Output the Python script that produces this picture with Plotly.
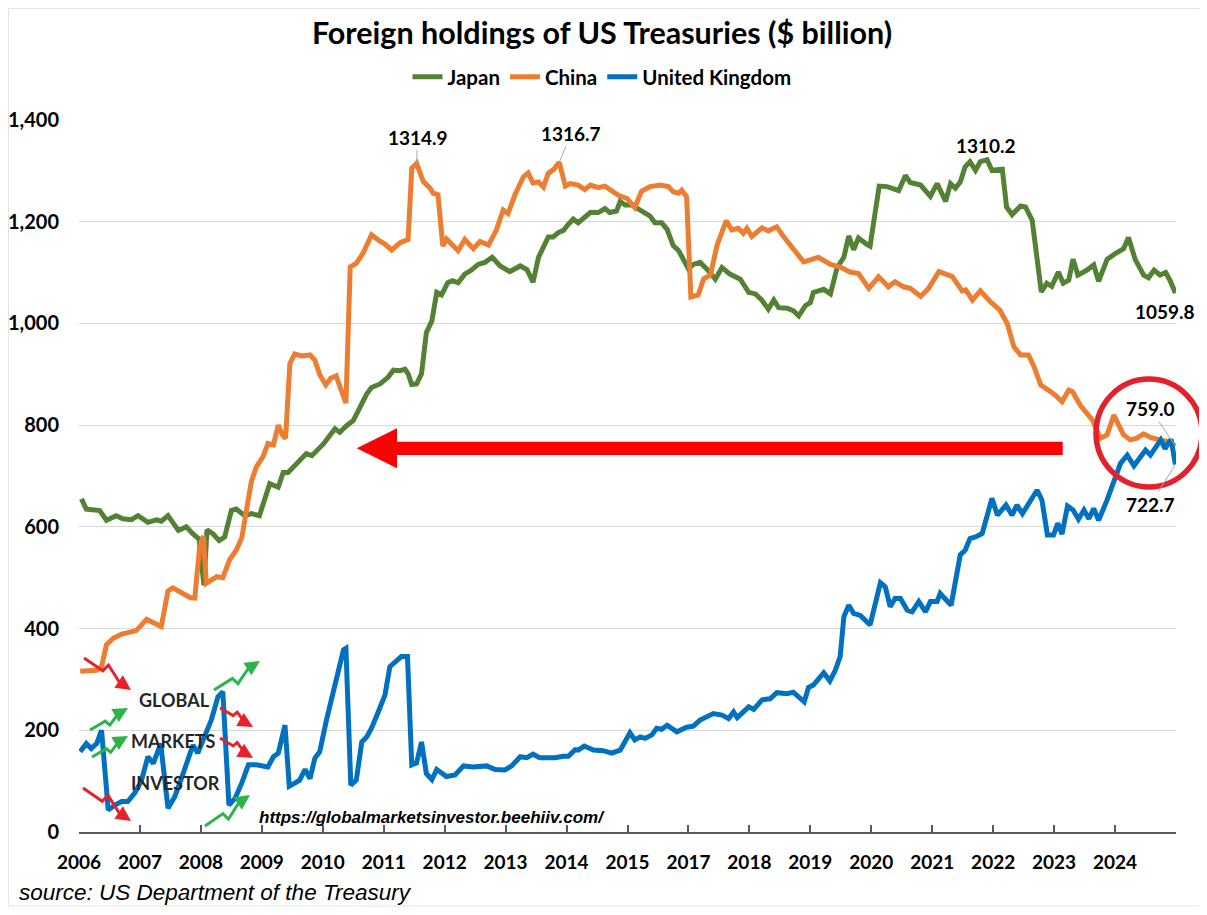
import plotly.graph_objects as go

# ---------------- DATA ----------------
# x positions are in "years from the first tick" along the chart's category axis
tick_labels = ["2006", "2007", "2008", "2009", "2010", "2011", "2012", "2013", "2014",
               "2015", "2017", "2018", "2019", "2020", "2021", "2022", "2023", "2024", ""]

japan_t = [0.04, 0.12, 0.34, 0.45, 0.61, 0.72, 0.86, 0.97, 1.13, 1.27,
           1.35, 1.46, 1.63, 1.76, 1.87, 1.97, 2.05, 2.10, 2.20, 2.30,
           2.39, 2.50, 2.58, 2.72, 2.83, 2.96, 3.13, 3.27, 3.35, 3.43,
           3.57, 3.73, 3.82, 4.01, 4.20, 4.28, 4.39, 4.50, 4.61, 4.72,
           4.80, 4.94, 5.07, 5.16, 5.27, 5.35, 5.40, 5.46, 5.54, 5.62,
           5.70, 5.79, 5.87, 5.95, 6.05, 6.13, 6.22, 6.33, 6.44, 6.55,
           6.66, 6.78, 6.91, 7.07, 7.24, 7.35, 7.45, 7.54, 7.70, 7.78,
           7.87, 7.95, 8.03, 8.11, 8.19, 8.28, 8.39, 8.52, 8.63, 8.71,
           8.82, 8.88, 8.96, 9.07, 9.23, 9.37, 9.45, 9.56, 9.65, 9.75,
           9.84, 9.92, 10.00, 10.08, 10.19, 10.30, 10.44, 10.55, 10.68, 10.85,
           10.99, 11.10, 11.21, 11.31, 11.40, 11.48, 11.62, 11.72, 11.81, 11.92,
           12.00, 12.05, 12.22, 12.33, 12.44, 12.55, 12.63, 12.71, 12.79, 12.92,
           12.98, 13.13, 13.26, 13.45, 13.56, 13.64, 13.81, 13.97, 14.08, 14.22,
           14.30, 14.38, 14.46, 14.54, 14.62, 14.71, 14.79, 14.90, 14.98, 15.15,
           15.22, 15.31, 15.45, 15.53, 15.64, 15.79, 15.88, 15.96, 16.07, 16.15,
           16.24, 16.31, 16.39, 16.54, 16.65, 16.73, 16.87, 17.01, 17.14, 17.22,
           17.33, 17.47, 17.55, 17.64, 17.74, 17.83, 17.90, 17.99]
japan = [655, 635, 632, 613, 622, 616, 614, 622, 609, 614,
         611, 622, 593, 600, 586, 576, 485, 594, 586, 573,
         580, 632, 635, 622, 626, 622, 685, 678, 707, 707,
         724, 744, 740, 763, 793, 786, 799, 809, 835, 861,
         874, 881, 894, 908, 907, 910, 901, 880, 881, 901,
         982, 1005, 1061, 1056, 1080, 1084, 1080, 1097, 1105, 1116,
         1120, 1130, 1113, 1102, 1113, 1106, 1081, 1130, 1170, 1170,
         1179, 1183, 1195, 1205, 1198, 1208, 1218, 1218, 1226, 1218,
         1221, 1240, 1233, 1233, 1221, 1211, 1198, 1198, 1185, 1153,
         1143, 1126, 1107, 1116, 1120, 1107, 1087, 1110, 1097, 1087,
         1061, 1058, 1045, 1028, 1046, 1031, 1030, 1025, 1015, 1035,
         1041, 1061, 1067, 1058, 1110, 1130, 1172, 1145, 1168, 1156,
         1152, 1270, 1269, 1261, 1291, 1277, 1272, 1250, 1275, 1240,
         1275, 1266, 1278, 1308, 1318, 1301, 1318, 1322, 1301, 1303,
         1229, 1214, 1231, 1229, 1203, 1062, 1079, 1073, 1101, 1079,
         1085, 1126, 1095, 1105, 1115, 1083, 1126, 1138, 1147, 1169,
         1126, 1095, 1090, 1105, 1095, 1100, 1085, 1059.8]

china_t = [0.02, 0.29, 0.37, 0.45, 0.56, 0.70, 0.94, 1.11, 1.35, 1.46,
           1.54, 1.82, 1.90, 1.98, 2.04, 2.09, 2.26, 2.36, 2.47, 2.58,
           2.67, 2.75, 2.83, 2.91, 3.02, 3.10, 3.19, 3.27, 3.34, 3.39,
           3.46, 3.54, 3.65, 3.79, 3.87, 3.95, 4.05, 4.13, 4.22, 4.28,
           4.38, 4.45, 4.55, 4.66, 4.80, 4.91, 5.02, 5.13, 5.27, 5.40,
           5.46, 5.54, 5.65, 5.76, 5.81, 5.89, 5.97, 6.03, 6.14, 6.22,
           6.33, 6.47, 6.58, 6.72, 6.85, 6.96, 7.04, 7.15, 7.29, 7.37,
           7.45, 7.54, 7.62, 7.70, 7.79, 7.88, 7.98, 8.06, 8.19, 8.30,
           8.39, 8.52, 8.63, 8.74, 8.85, 8.99, 9.12, 9.23, 9.37, 9.54,
           9.67, 9.75, 9.84, 9.89, 9.97, 10.04, 10.16, 10.25, 10.36, 10.47,
           10.62, 10.71, 10.82, 10.90, 10.96, 11.04, 11.21, 11.31, 11.45, 11.56,
           11.72, 11.89, 12.00, 12.13, 12.33, 12.49, 12.65, 12.79, 12.96, 13.12,
           13.28, 13.39, 13.53, 13.64, 13.81, 13.94, 14.11, 14.22, 14.33, 14.49,
           14.55, 14.66, 14.79, 14.95, 15.11, 15.23, 15.34, 15.45, 15.58, 15.67,
           15.78, 15.94, 16.02, 16.13, 16.24, 16.30, 16.43, 16.63, 16.76, 16.87,
           16.98, 17.06, 17.14, 17.25, 17.35, 17.47, 17.58, 17.74, 17.88, 17.99]
china = [316, 318, 325, 368, 381, 389, 396, 418, 404, 474,
         480, 461, 460, 561, 582, 489, 502, 500, 535, 554,
         578, 630, 690, 718, 738, 764, 761, 800, 780, 774,
         921, 940, 936, 938, 928, 899, 879, 892, 897, 876,
         843, 1111, 1118, 1138, 1174, 1164, 1156, 1144, 1159, 1165,
         1305, 1314.9, 1279, 1266, 1256, 1253, 1152, 1166, 1151, 1143,
         1165, 1147, 1161, 1154, 1184, 1223, 1216, 1252, 1288, 1296,
         1276, 1278, 1268, 1295, 1303, 1316.7, 1270, 1275, 1272, 1263,
         1272, 1267, 1270, 1262, 1252, 1246, 1228, 1260, 1269, 1272,
         1269, 1259, 1256, 1262, 1249, 1052, 1056, 1088, 1095, 1154,
         1202, 1184, 1187, 1177, 1187, 1171, 1188, 1182, 1190, 1171,
         1148, 1121, 1125, 1130, 1116, 1111, 1101, 1098, 1069, 1092,
         1072, 1082, 1072, 1069, 1053, 1069, 1102, 1098, 1092, 1064,
         1066, 1046, 1064, 1043, 1026, 1000, 954, 938, 938, 915,
         879, 866, 859, 846, 869, 866, 839, 810, 774, 781,
         820, 800, 781, 771, 774, 783, 776, 771, 767, 759.0]

uk_t = [0.02, 0.12, 0.20, 0.29, 0.37, 0.48, 0.59, 0.70, 0.80, 0.91,
        1.02, 1.13, 1.22, 1.34, 1.46, 1.57, 1.68, 1.79, 1.87, 1.95,
        2.06, 2.17, 2.28, 2.36, 2.46, 2.56, 2.67, 2.78, 2.91, 3.10,
        3.19, 3.27, 3.38, 3.45, 3.54, 3.62, 3.71, 3.79, 3.87, 3.95,
        4.06, 4.23, 4.34, 4.38, 4.46, 4.55, 4.64, 4.72, 4.80, 4.91,
        5.02, 5.10, 5.21, 5.29, 5.39, 5.46, 5.54, 5.62, 5.70, 5.79,
        5.87, 6.03, 6.17, 6.31, 6.47, 6.69, 6.83, 6.99, 7.10, 7.24,
        7.35, 7.45, 7.56, 7.81, 7.95, 8.03, 8.14, 8.19, 8.29, 8.44,
        8.60, 8.74, 8.88, 9.04, 9.12, 9.21, 9.29, 9.40, 9.48, 9.56,
        9.65, 9.81, 9.97, 10.08, 10.19, 10.30, 10.41, 10.55, 10.66, 10.74,
        10.80, 10.99, 11.07, 11.21, 11.34, 11.45, 11.62, 11.72, 11.83, 11.90,
        11.97, 12.05, 12.22, 12.32, 12.41, 12.49, 12.55, 12.63, 12.71, 12.82,
        12.98, 13.07, 13.15, 13.23, 13.31, 13.39, 13.48, 13.59, 13.67, 13.78,
        13.89, 13.97, 14.08, 14.13, 14.24, 14.31, 14.46, 14.54, 14.62, 14.71,
        14.82, 14.90, 14.98, 15.07, 15.21, 15.31, 15.39, 15.48, 15.58, 15.72,
        15.80, 15.89, 15.99, 16.06, 16.13, 16.22, 16.31, 16.40, 16.49, 16.57,
        16.65, 16.73, 16.87, 16.98, 17.09, 17.20, 17.31, 17.42, 17.50, 17.58,
        17.71, 17.75, 17.82, 17.92, 17.99]
uk = [158, 174, 164, 174, 200, 43, 53, 60, 60, 76,
      99, 148, 135, 174, 47, 69, 105, 142, 171, 155,
      187, 220, 266, 276, 53, 66, 96, 132, 132, 128,
      148, 155, 210, 90, 96, 102, 123, 105, 145, 158,
      220, 299, 358, 361, 92, 102, 177, 187, 204, 236,
      269, 325, 335, 345, 345, 132, 136, 177, 115, 103,
      123, 109, 112, 130, 128, 130, 123, 122, 130, 148,
      146, 153, 146, 146, 149, 149, 162, 161, 169, 161,
      160, 155, 161, 195, 181, 187, 184, 191, 204, 202,
      210, 197, 206, 208, 220, 227, 233, 230, 223, 236,
      225, 246, 241, 260, 262, 274, 272, 275, 262, 256,
      284, 289, 313, 297, 318, 345, 423, 446, 430, 426,
      407, 456, 490, 482, 443, 459, 459, 436, 433, 453,
      433, 453, 453, 469, 453, 446, 545, 554, 577, 580,
      587, 620, 656, 623, 643, 623, 643, 626, 646, 672,
      653, 584, 584, 607, 586, 641, 633, 615, 633, 616,
      636, 613, 653, 692, 725, 741, 720, 738, 751, 741,
      761, 771, 754, 772, 722.7]

# ---------------- STYLE / LAYOUT ----------------
# The page body has an 8px margin, so the figure is drawn 8px in from the top-left.
OFF = 8
W, H = 1207 - OFF, 915 - OFF
PL, PR, PT, PB = 79, 1176, 120, 832          # plot box in screen pixels
ML, MR, MT, MB = PL - OFF, 1207 - PR, PT - OFF, H - (PB - OFF)
PW, PH = PR - PL, PB - PT
GREEN, ORANGE, BLUE = "#548235", "#ED7D31", "#0070C0"
FONT = "Lato"


def X(px):
    return (px - PL) / PW


def Y(py):
    return (PB - py) / PH


fig = go.Figure()
for name, t, v, col in [("Japan", japan_t, japan, GREEN),
                        ("China", china_t, china, ORANGE),
                        ("United Kingdom", uk_t, uk, BLUE)]:
    fig.add_trace(go.Scatter(x=t, y=v, name=name, mode="lines",
                             line=dict(color=col, width=5),
                             hoverinfo="skip"))

shapes = []
annotations = []

# red arrow pointing left
shapes.append(dict(type="path", xref="paper", yref="paper", layer="above",
                   path=(f"M {X(356.7)},{Y(448.3)} L {X(397)},{Y(428.3)} L {X(397)},{Y(441.7)} "
                         f"L {X(1062.7)},{Y(441.7)} L {X(1062.7)},{Y(455)} L {X(397)},{Y(455)} "
                         f"L {X(397)},{Y(468.3)} Z"),
                   fillcolor="#FF0000", line=dict(width=0)))
# red circle
shapes.append(dict(type="circle", xref="paper", yref="paper", layer="above",
                   x0=X(1096), x1=X(1202), y0=Y(487), y1=Y(379),
                   line=dict(color="#E3212B", width=5.5)))
# outer chart border
shapes.append(dict(type="rect", xref="paper", yref="paper", layer="below",
                   x0=X(OFF + 0.5), x1=X(1201.5), y0=Y(906), y1=Y(OFF + 0.5),
                   line=dict(color="#E3E3E3", width=1)))


# logo zig-zag arrows
def zig(sx, sy, ex, ey, col):
    dx, dy = ex - sx, ey - sy
    p1 = (sx + 0.40 * dx, sy + 0.40 * dy)
    p2 = (sx + 0.52 * dx, sy + 0.40 * dy - 0.18 * dy)
    p3 = (sx + 0.75 * dx, sy + 0.75 * dy)
    shapes.append(dict(type="path", xref="paper", yref="paper", layer="above",
                       path=f"M {X(sx)},{Y(sy)} L {X(p1[0])},{Y(p1[1])} L {X(p2[0])},{Y(p2[1])} L {X(p3[0])},{Y(p3[1])}",
                       line=dict(color=col, width=3)))
    annotations.append(dict(xref="paper", yref="paper", x=X(ex), y=Y(ey), text="",
                            showarrow=True, axref="pixel", ayref="pixel",
                            ax=p3[0] - ex, ay=p3[1] - ey, arrowhead=2, arrowsize=1,
                            arrowwidth=3, arrowcolor=col, standoff=0))


RED_L, GREEN_L = "#E8202A", "#2DB34A"
zig(84, 658, 131, 690, RED_L)
zig(90, 730, 128, 708, GREEN_L)
zig(92, 757, 128, 736, GREEN_L)
zig(83, 788, 131, 821, RED_L)
zig(214, 690, 260, 661, GREEN_L)
zig(220, 708, 253, 727, RED_L)
zig(220, 738, 253, 758, RED_L)
zig(205, 826, 250, 795, GREEN_L)

for txt, cx, cy in [("GLOBAL", 174, 700), ("MARKETS", 173, 741), ("INVESTOR", 175, 783)]:
    annotations.append(dict(xref="paper", yref="paper", x=X(cx), y=Y(cy), text=txt,
                            showarrow=False, xanchor="center", yanchor="middle",
                            font=dict(family=FONT, size=18, color="#262626", weight="bold")))

annotations.append(dict(xref="paper", yref="paper", x=X(432), y=Y(817),
                        text="https://globalmarketsinvestor.beehiiv.com/", showarrow=False,
                        xanchor="center", yanchor="middle",
                        font=dict(family="Liberation Sans", size=17, color="#000",
                                  weight="bold", style="italic")))
annotations.append(dict(xref="paper", yref="paper", x=X(17), y=Y(892),
                        text="source: US Department of the Treasury", showarrow=False,
                        xanchor="left", yanchor="middle",
                        font=dict(family="Liberation Sans", size=22.5, color="#000",
                                  style="italic")))

# value labels anchored to data points
LBL = dict(family=FONT, size=19, color="#000", weight="bold")
lead = dict(showarrow=True, arrowhead=0, arrowwidth=1, arrowcolor="#A6A6A6", standoff=0)
i = china.index(1314.9)
annotations.append(dict(x=china_t[i], y=china[i], text="1314.9", ax=1, ay=-26, font=LBL, **lead))
i = china.index(1316.7)
annotations.append(dict(x=china_t[i], y=china[i], text="1316.7", ax=12, ay=-29, font=LBL, **lead))
i = japan.index(max(japan))
annotations.append(dict(x=japan_t[i], y=japan[i], text="1310.2", showarrow=False,
                        yshift=14, xshift=-1, font=LBL))
annotations.append(dict(x=japan_t[-1], y=japan[-1], text=f"{japan[-1]:.1f}", showarrow=False,
                        yshift=-18, xshift=-10, font=LBL))
annotations.append(dict(x=china_t[-1], y=china[-1], text=f"{china[-1]:.1f}", ax=-25, ay=-37,
                        font=LBL, **lead))
annotations.append(dict(x=uk_t[-1], y=uk[-1], text=f"{uk[-1]:.1f}", ax=-25, ay=40,
                        font=LBL, **lead))

fig.update_layout(
    width=W, height=H,
    margin=dict(l=ML, r=MR, t=MT, b=MB, autoexpand=False),
    paper_bgcolor="white", plot_bgcolor="white",
    title=dict(text="Foreign holdings of US Treasuries ($ billion)",
               x=(602 - OFF) / W, xref="container", xanchor="center",
               y=1 - (33 - OFF) / H, yref="container", yanchor="middle",
               font=dict(family=FONT, size=30.5, color="#000", weight="bold")),
    legend=dict(orientation="h", x=X(602), xanchor="center", y=Y(77), yanchor="middle",
                font=dict(family=FONT, size=20.5, color="#000", weight="bold"),
                itemwidth=30, bgcolor="rgba(0,0,0,0)", traceorder="normal"),
    xaxis=dict(range=[0, 18], tickmode="array", tickvals=list(range(19)), ticktext=tick_labels,
               showgrid=False, zeroline=False, showline=True, linecolor="#595959", linewidth=1.5,
               ticks="inside", ticklen=7, tickwidth=1.5, tickcolor="#595959",
               tickfont=dict(family=FONT, size=19, color="#000", weight="bold"),
               ticklabelstandoff=12, fixedrange=True),
    yaxis=dict(range=[0, 1400], tickvals=list(range(0, 1401, 200)), tickformat=",",
               showgrid=True, gridcolor="#D9D9D9", gridwidth=1.3, zeroline=False, showline=False,
               tickfont=dict(family=FONT, size=20, color="#000", weight="bold"),
               ticklabelstandoff=19, fixedrange=True),
    shapes=shapes, annotations=annotations, showlegend=True, hovermode=False,
)

fig.write_html("out.html", config={"displayModeBar": False})
